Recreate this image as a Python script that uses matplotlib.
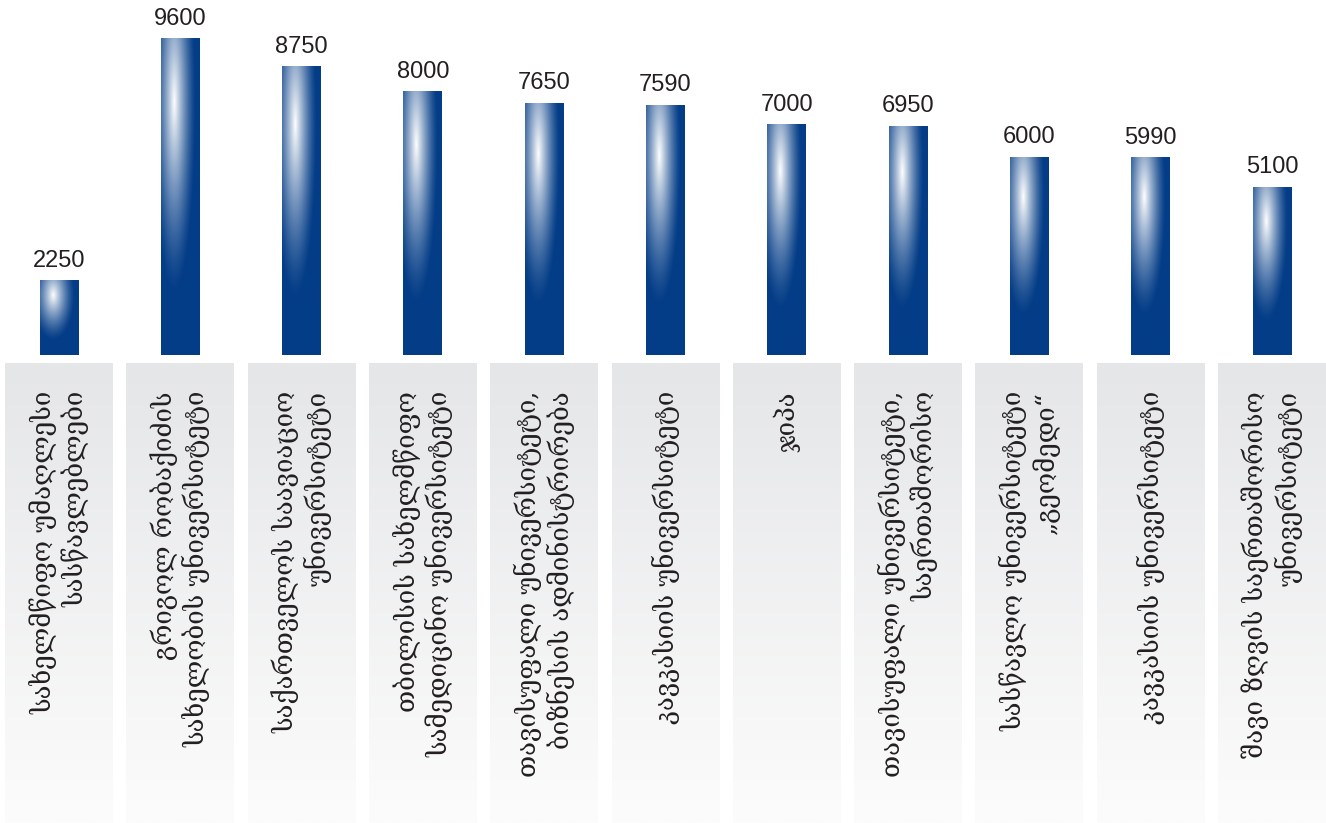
import numpy as np
import matplotlib
matplotlib.use("Agg")
import matplotlib.pyplot as plt

# ---- data ----
categories = [
    "სახელმწიფო უმაღლესი\nსასწავლებლები",
    "გრიგოლ რობაქიძის\nსახელობის უნივერსიტეტი",
    "საქართველოს საავიაციო\nუნივერსიტეტი",
    "თბილისის სახელმწიფო\nსამედიცინო უნივერსიტეტი",
    "თავისუფალი უნივერსიტეტი,\nბიზნესის ადმინისტრირება",
    "კავკასიის უნივერსიტეტი",
    "ჯიპა",
    "თავისუფალი უნივერსიტეტი,\nსაერთაშორისო",
    "სასწავლო უნივერსიტეტი\n„გეომედი“",
    "კავკასიის უნივერსიტეტი",
    "შავი ზღვის საერთაშორისო\nუნივერსიტეტი",
]
values = [2250, 9600, 8750, 8000, 7650, 7590, 7000, 6950, 6000, 5990, 5100]
value_labels = ["2250", "9600", "8750", "8000", "7650", "7590", "7000", "6950", "6000", "5990", "5100"]

W, H = 1326, 823
fig = plt.figure(figsize=(W / 100, H / 100), dpi=100)
fig.patch.set_facecolor("white")

pitch = 121.3
x0 = 59.0
xlim = (-x0 / pitch, (W - x0) / pitch)

# bars axes
ax = fig.add_axes([0, 1 - 355 / H, 1, 355 / H])
ax.set_axis_off()

dark = np.array([4, 61, 135]) / 255.0
white = np.array([1.0, 1.0, 1.0])
nr, nc = 240, 60
u = np.linspace(0, 1, nc)[None, :]
v = np.linspace(0, 1, nr)[:, None]
d = np.sqrt(((u - 0.34) / 0.55) ** 2 + ((v - 0.2) / 0.6) ** 2)
t = np.clip(1 - d, 0, 1) ** 1.3
img = dark[None, None, :] + (white - dark)[None, None, :] * t[:, :, None]

bw = 0.32
xs = np.arange(len(values))
for i, val in enumerate(values):
    ax.imshow(img, extent=(xs[i] - bw / 2, xs[i] + bw / 2, 0, val),
              aspect="auto", interpolation="bilinear", origin="upper", zorder=2)
    ax.annotate(value_labels[i], (xs[i], val), xytext=(0, 6.5), textcoords="offset points",
                ha="center", va="bottom", fontsize=17, color="#231f20",
                family=["Liberation Sans", "DejaVu Sans"])
ax.set_xlim(*xlim)
ax.set_ylim(0, 355 / 316 * 9600)

# label panels axes
ax2 = fig.add_axes([0, 0, 1, 460 / H])
ax2.set_axis_off()
top_c = np.array([229, 230, 232]) / 255.0
bot_c = np.array([252, 252, 252]) / 255.0
g = np.linspace(0, 1, 200)[:, None]
pimg = top_c[None, None, :] * (1 - g[:, :, None]) + bot_c[None, None, :] * g[:, :, None]
pimg = np.repeat(pimg, 2, axis=1)
pw = 0.89
for i, lab in enumerate(categories):
    ax2.imshow(pimg, extent=(xs[i] - pw / 2, xs[i] + pw / 2, 0, 1),
               aspect="auto", interpolation="bilinear", origin="upper", zorder=1)
    ax2.text(xs[i], 1 - 28 / 460, lab, rotation=90, ha="center", va="top",
             multialignment="right", fontsize=18.5, color="#231f20",
             family=["DejaVu Serif", "DejaVu Sans"], linespacing=1.2, zorder=3)
ax2.set_xlim(*xlim)
ax2.set_ylim(0, 1)

fig.savefig("out.png", dpi=100, facecolor="white")
